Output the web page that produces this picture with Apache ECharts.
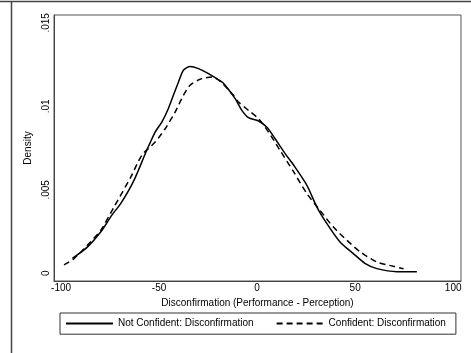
<!DOCTYPE html>
<html>
<head>
<meta charset="utf-8">
<script src="https://cdn.jsdelivr.net/npm/echarts@6/dist/echarts.min.js"></script>
<style>
  html, body { margin: 0; padding: 0; background: #fff; }
  #chart { width: 471px; height: 353px; }
</style>
</head>
<body>
<div id="chart"></div>
<script>
// values
const seriesNames = ['Not Confident: Disconfirmation', 'Confident: Disconfirmation'];
const xTicks = [-100, -50, 0, 50, 100];
const yTicks = [0, 0.005, 0.01, 0.015];

const notConfX = [-94.2, -86.6, -79.8, -74, -69.6, -62.8, -56.3, -52, -48.6, -45.3, -42.7, -40.1, -37.6, -34.2, -29.9, -24.8, -18, -16.3, -11.2, -7.8, -4.4, 0.7, 4.9, 9.2, 14.3, 18.5, 25.4, 30.5, 35.6, 42.3, 49.1, 55, 61.1, 71.3, 81.5];
const notConfY = [0.0009, 0.00157, 0.00247, 0.0035, 0.00417, 0.00557, 0.00737, 0.00846, 0.00906, 0.00986, 0.01066, 0.01146, 0.01216, 0.01238, 0.01226, 0.01196, 0.01146, 0.01126, 0.01046, 0.00976, 0.00932, 0.00912, 0.00876, 0.00806, 0.00717, 0.0065, 0.00527, 0.00397, 0.00298, 0.00188, 0.00118, 0.0006, 0.00028, 0.0001, 0.0001];

const confX = [-98.5, -93.4, -86.6, -79.8, -73, -64.4, -58.8, -52, -46.9, -41.8, -37.6, -34.2, -29.1, -23.1, -18.9, -12.1, -9.5, -4.4, 0.7, 5.8, 11.5, 18.5, 25.4, 32.1, 38.9, 45.8, 52.6, 61.1, 69.5, 74.7];
const confY = [0.0005, 0.00088, 0.00168, 0.00257, 0.00397, 0.00577, 0.00707, 0.00786, 0.00866, 0.00966, 0.01066, 0.01126, 0.01162, 0.01176, 0.0115, 0.01066, 0.01026, 0.00976, 0.00926, 0.00846, 0.0074, 0.0061, 0.00477, 0.00377, 0.00277, 0.00198, 0.00128, 0.00068, 0.00042, 0.00028];

const zip = (xs, ys) => xs.map((x, i) => [x, ys[i]]);
const font = 'Liberation Sans, Arial, Helvetica, sans-serif';

let chart = echarts.init(document.getElementById('chart'), null, { renderer: 'canvas' });
let option = {
  animation: false,
  textStyle: { fontFamily: font },
  graphic: [
    { type: 'line', shape: { x1: 0, y1: 1.5, x2: 471, y2: 1.5 }, style: { stroke: '#444', lineWidth: 1.5 } },
    { type: 'line', shape: { x1: 11.5, y1: 1.5, x2: 11.5, y2: 353 }, style: { stroke: '#444', lineWidth: 1.5 } }
  ],
  grid: {
    left: 54, right: 10, top: 15, bottom: 72,
    show: true, borderColor: '#555', borderWidth: 1
  },
  xAxis: {
    type: 'value',
    min: -103.6, max: 104,
    name: 'Disconfirmation (Performance - Perception)',
    nameLocation: 'middle',
    nameGap: 17,
    nameTextStyle: { fontSize: 10, color: '#000', fontFamily: font },
    axisLine: { show: true, onZero: false, lineStyle: { color: '#444', width: 1 } },
    axisTick: { show: false },
    splitLine: { show: false },
    axisLabel: {
      customValues: xTicks,
      fontSize: 10, color: '#000', margin: 2, fontFamily: font
    }
  },
  yAxis: {
    type: 'value',
    min: -0.00046, max: 0.01547,
    name: 'Density',
    nameLocation: 'middle',
    nameGap: 18,
    nameRotate: 90,
    nameTextStyle: { fontSize: 10, color: '#000', fontFamily: font },
    axisLine: { show: true, onZero: false, lineStyle: { color: '#444', width: 1 } },
    axisTick: { show: false },
    splitLine: { show: false },
    axisLabel: {
      customValues: yTicks,
      rotate: 90,
      fontSize: 10, color: '#000', margin: 3, fontFamily: font,
      formatter: v => v === 0 ? '0' : String(v).replace(/^0/, '')
    }
  },
  legend: {
    left: 60, top: 313,
    padding: [5, 10, 5, 5],
    borderColor: '#333', borderWidth: 1,
    itemWidth: 47, itemHeight: 14, itemGap: 22,
    itemStyle: { opacity: 0 },
    textStyle: { fontSize: 10, color: '#000', fontFamily: font },
    data: seriesNames
  },
  series: [
    {
      name: seriesNames[0],
      type: 'line',
      smooth: 0.25,
      symbol: 'none',
      lineStyle: { color: '#000', width: 1.5, type: 'solid' },
      itemStyle: { color: '#000' },
      data: zip(notConfX, notConfY)
    },
    {
      name: seriesNames[1],
      type: 'line',
      smooth: 0.25,
      symbol: 'none',
      lineStyle: { color: '#000', width: 1.5, type: [6, 4] },
      itemStyle: { color: '#000' },
      data: zip(confX, confY)
    }
  ]
};

chart.setOption(option);
window.addEventListener('resize', function () {
  chart.resize();
});
</script>
</body>
</html>
